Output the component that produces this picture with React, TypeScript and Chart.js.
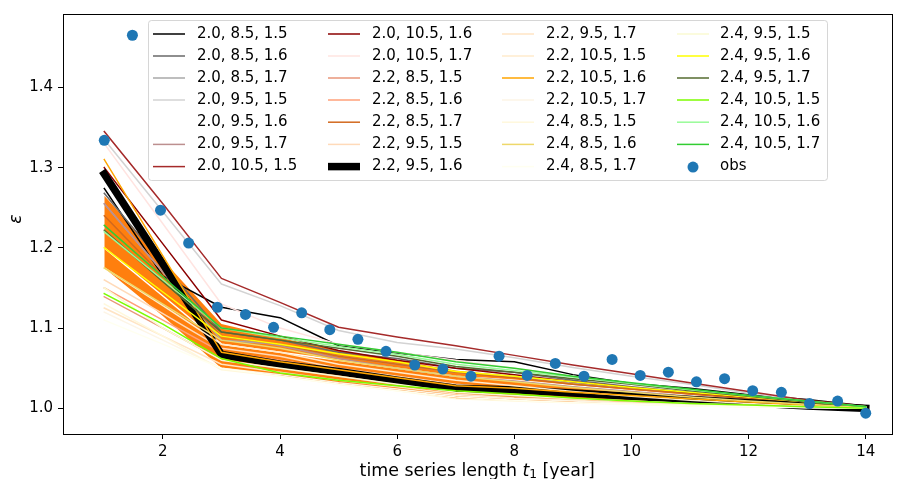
import React, { useEffect, useRef } from "react";
import { Chart, registerables } from "chart.js";

Chart.register(...registerables);

const T = [1, 2, 3, 4, 5, 6, 7, 8, 9, 10, 11, 12, 13, 14];
const X_TICKS = [2, 4, 6, 8, 10, 12, 14];
const Y_TICKS = [1.0, 1.1, 1.2, 1.3, 1.4];

const LABELS = [
  "2.0, 8.5, 1.5", "2.0, 8.5, 1.6", "2.0, 8.5, 1.7", "2.0, 9.5, 1.5", "2.0, 9.5, 1.6", "2.0, 9.5, 1.7",
  "2.0, 10.5, 1.5", "2.0, 10.5, 1.6", "2.0, 10.5, 1.7", "2.2, 8.5, 1.5", "2.2, 8.5, 1.6", "2.2, 8.5, 1.7",
  "2.2, 9.5, 1.5", "2.2, 9.5, 1.6", "2.2, 9.5, 1.7", "2.2, 10.5, 1.5", "2.2, 10.5, 1.6", "2.2, 10.5, 1.7",
  "2.4, 8.5, 1.5", "2.4, 8.5, 1.6", "2.4, 8.5, 1.7", "2.4, 9.5, 1.5", "2.4, 9.5, 1.6", "2.4, 9.5, 1.7",
  "2.4, 10.5, 1.5", "2.4, 10.5, 1.6", "2.4, 10.5, 1.7",
];

const COLORS = [
  "#000000", "#696969", "#a9a9a9", "#d3d3d3", "#ffffff", "#bc8f8f",
  "#a52a2a", "#8b0000", "#ffe4e1", "#e9967a", "#ffa07a", "#d2691e",
  "#ffdab9", "#000000", "#ffe4c4", "#ffebcd", "#ffa500", "#fdf5e6",
  "#fff8dc", "#eed86a", "#fffff0", "#fafad2", "#ffff00", "#556b2f",
  "#7cfc00", "#98fb98", "#32cd32",
];

const WIDTHS = [
  1.5, 1.5, 1.5, 1.5, 1.5, 1.5, 1.5, 1.5, 1.5, 1.5, 1.5, 1.5, 1.5, 7.5, 1.5, 1.5, 1.5, 1.5,
  1.5, 1.5, 1.5, 1.5, 1.5, 1.5, 1.5, 1.5, 1.5,
];

const VALUES: number[][] = [
  [1.274, 1.165, 1.126, 1.113, 1.078, 1.069, 1.061, 1.058, 1.042, 1.031, 1.025, 1.017, 1.011, 1.003],
  [1.268, 1.18, 1.095, 1.085, 1.07, 1.062, 1.05, 1.045, 1.035, 1.027, 1.02, 1.014, 1.008, 1.002],
  [1.255, 1.17, 1.085, 1.08, 1.065, 1.055, 1.045, 1.04, 1.032, 1.025, 1.019, 1.013, 1.008, 1.002],
  [1.335, 1.245, 1.155, 1.128, 1.097, 1.082, 1.074, 1.063, 1.051, 1.04, 1.03, 1.019, 1.009, 1.002],
  [1.2, 1.14, 1.08, 1.07, 1.06, 1.05, 1.04, 1.035, 1.028, 1.022, 1.016, 1.011, 1.006, 1.001],
  [1.255, 1.17, 1.09, 1.078, 1.062, 1.05, 1.04, 1.034, 1.027, 1.021, 1.015, 1.01, 1.005, 1.001],
  [1.345, 1.255, 1.162, 1.132, 1.101, 1.089, 1.078, 1.066, 1.054, 1.043, 1.032, 1.021, 1.01, 1.003],
  [1.3, 1.205, 1.11, 1.09, 1.072, 1.06, 1.05, 1.042, 1.033, 1.026, 1.019, 1.013, 1.007, 1.002],
  [1.33, 1.23, 1.13, 1.1, 1.08, 1.07, 1.06, 1.05, 1.04, 1.03, 1.022, 1.014, 1.008, 1.002],
  [1.139, 1.1, 1.06, 1.05, 1.04, 1.03, 1.02, 1.015, 1.012, 1.009, 1.006, 1.004, 1.002, 1.0],
  [1.15, 1.11, 1.07, 1.06, 1.048, 1.038, 1.028, 1.022, 1.017, 1.012, 1.008, 1.005, 1.003, 1.0],
  [1.24, 1.165, 1.09, 1.08, 1.065, 1.055, 1.045, 1.038, 1.03, 1.024, 1.018, 1.012, 1.007, 1.002],
  [1.16, 1.118, 1.075, 1.065, 1.05, 1.04, 1.03, 1.024, 1.018, 1.013, 1.009, 1.006, 1.003, 1.0],
  [1.292, 1.18, 1.067, 1.055, 1.046, 1.035, 1.025, 1.023, 1.019, 1.015, 1.011, 1.007, 1.003, 1.0],
  [1.125, 1.09, 1.055, 1.045, 1.035, 1.027, 1.018, 1.013, 1.01, 1.007, 1.005, 1.003, 1.001, 1.0],
  [1.175, 1.128, 1.08, 1.07, 1.055, 1.045, 1.035, 1.028, 1.021, 1.015, 1.01, 1.006, 1.003, 1.0],
  [1.31, 1.19, 1.07, 1.058, 1.048, 1.038, 1.028, 1.025, 1.02, 1.016, 1.012, 1.008, 1.004, 1.001],
  [1.12, 1.085, 1.05, 1.042, 1.032, 1.024, 1.016, 1.012, 1.009, 1.006, 1.004, 1.002, 1.001, 1.0],
  [1.13, 1.09, 1.048, 1.04, 1.03, 1.022, 1.012, 1.009, 1.007, 1.005, 1.003, 1.002, 1.001, 1.0],
  [1.175, 1.13, 1.085, 1.075, 1.06, 1.05, 1.04, 1.033, 1.026, 1.02, 1.014, 1.009, 1.005, 1.001],
  [1.11, 1.08, 1.05, 1.04, 1.03, 1.022, 1.014, 1.01, 1.007, 1.005, 1.003, 1.002, 1.001, 1.0],
  [1.15, 1.1, 1.06, 1.05, 1.04, 1.03, 1.02, 1.016, 1.012, 1.009, 1.006, 1.004, 1.002, 1.0],
  [1.2, 1.145, 1.09, 1.08, 1.068, 1.058, 1.046, 1.04, 1.033, 1.026, 1.02, 1.014, 1.008, 1.002],
  [1.222, 1.158, 1.095, 1.085, 1.075, 1.065, 1.052, 1.045, 1.037, 1.03, 1.022, 1.015, 1.008, 1.002],
  [1.143, 1.105, 1.062, 1.044, 1.035, 1.028, 1.022, 1.018, 1.013, 1.009, 1.006, 1.004, 1.002, 1.0],
  [1.22, 1.16, 1.1, 1.088, 1.077, 1.067, 1.055, 1.047, 1.039, 1.031, 1.023, 1.016, 1.009, 1.002],
  [1.228, 1.164, 1.1, 1.09, 1.08, 1.07, 1.058, 1.05, 1.04, 1.032, 1.024, 1.016, 1.009, 1.002],
];

const BAND_LOW = [1.175, 1.115, 1.05, 1.04, 1.03, 1.022, 1.012, 1.009, 1.007, 1.005, 1.004, 1.002, 1.001, 1.0];
const BAND_HIGH = [1.265, 1.185, 1.105, 1.088, 1.072, 1.06, 1.047, 1.04, 1.033, 1.027, 1.02, 1.014, 1.008, 1.004];

const OBS_T = [
  1.0, 1.48, 1.96, 2.44, 2.93, 3.41, 3.89, 4.37, 4.85, 5.33, 5.81, 6.3, 6.78, 7.26,
  7.74, 8.22, 8.7, 9.19, 9.67, 10.15, 10.63, 11.11, 11.59, 12.07, 12.56, 13.04, 13.52, 14.0,
];
const OBS_V = [
  1.334, 1.465, 1.247, 1.206, 1.126, 1.117, 1.101, 1.119, 1.098, 1.086, 1.071, 1.054, 1.049, 1.04,
  1.065, 1.041, 1.056, 1.04, 1.061, 1.041, 1.045, 1.033, 1.037, 1.022, 1.02, 1.006, 1.009, 0.994,
];

const FONT = "DejaVu Sans";
const FS = 15;
const LFS = 17.4;

const framePlugin = {
  id: "frame",
  afterDraw(chart: any) {
    const { ctx, chartArea: a } = chart;
    ctx.save();
    ctx.strokeStyle = "#000";
    ctx.lineWidth = 1;
    ctx.strokeRect(Math.round(a.left) + 0.5, Math.round(a.top) + 0.5, Math.round(a.right - a.left), Math.round(a.bottom - a.top));
    ctx.fillStyle = "#000";
    ctx.textBaseline = "middle";
    const cx = (a.left + a.right) / 2;
    const part1 = "time series length ";
    const part2 = "t";
    const part3 = "1";
    const part4 = " [year]";
    ctx.font = `${LFS}px "${FONT}"`;
    const w1 = ctx.measureText(part1).width;
    const w4 = ctx.measureText(part4).width;
    ctx.font = `italic ${LFS}px "${FONT}"`;
    const w2 = ctx.measureText(part2).width;
    ctx.font = `${LFS * 0.7}px "${FONT}"`;
    const w3 = ctx.measureText(part3).width;
    let x = cx - (w1 + w2 + w3 + w4) / 2;
    const y = 471;
    ctx.textAlign = "left";
    ctx.font = `${LFS}px "${FONT}"`;
    ctx.fillText(part1, x, y);
    x += w1;
    ctx.font = `italic ${LFS}px "${FONT}"`;
    ctx.fillText(part2, x, y);
    x += w2;
    ctx.font = `${LFS * 0.7}px "${FONT}"`;
    ctx.fillText(part3, x, y + 3.5);
    x += w3;
    ctx.font = `${LFS}px "${FONT}"`;
    ctx.fillText(part4, x, y);
    ctx.save();
    ctx.translate(16, 219);
    ctx.rotate(-Math.PI / 2);
    ctx.textAlign = "center";
    ctx.font = `italic ${LFS}px "${FONT}"`;
    ctx.fillText("ε", 0, 0);
    ctx.restore();
    ctx.restore();
  },
};

const legendPlugin = {
  id: "customLegend",
  afterDraw(chart: any) {
    const { ctx } = chart;
    const left = 148.5, top = 20.5, right = 827.5, bottom = 180.5, r = 3;
    ctx.save();
    ctx.beginPath();
    ctx.moveTo(left + r, top);
    ctx.lineTo(right - r, top);
    ctx.quadraticCurveTo(right, top, right, top + r);
    ctx.lineTo(right, bottom - r);
    ctx.quadraticCurveTo(right, bottom, right - r, bottom);
    ctx.lineTo(left + r, bottom);
    ctx.quadraticCurveTo(left, bottom, left, bottom - r);
    ctx.lineTo(left, top + r);
    ctx.quadraticCurveTo(left, top, left + r, top);
    ctx.closePath();
    ctx.fillStyle = "rgba(255,255,255,0.8)";
    ctx.fill();
    ctx.strokeStyle = "rgba(204,204,204,0.8)";
    ctx.lineWidth = 1;
    ctx.stroke();

    const colLine = [153, 328, 502, 677];
    const colText = [197, 372, 546, 720];
    const rowY = [34, 56, 78, 100, 122.2, 144.4, 166.6];
    const entries: any[] = LABELS.map((l, i) => ({ label: l, color: COLORS[i], width: WIDTHS[i], type: "line" }));
    entries.push({ label: "obs", color: "#1f77b4", type: "dot" });
    ctx.font = `${FS}px "${FONT}"`;
    ctx.textBaseline = "middle";
    ctx.textAlign = "left";
    entries.forEach((e, i) => {
      const c = Math.floor(i / 7);
      const rI = i % 7;
      const y = rowY[rI];
      if (e.type === "line") {
        ctx.strokeStyle = e.color;
        ctx.lineWidth = e.width;
        ctx.lineCap = "butt";
        ctx.beginPath();
        ctx.moveTo(colLine[c], y);
        ctx.lineTo(colLine[c] + 32, y);
        ctx.stroke();
      } else {
        ctx.fillStyle = e.color;
        ctx.beginPath();
        ctx.arc(colLine[c] + 16, y + 0.5, 5.5, 0, Math.PI * 2);
        ctx.fill();
      }
      ctx.fillStyle = "#000";
      ctx.fillText(e.label, colText[c], y);
    });
    ctx.restore();
  },
};

export default function App() {
  const ref = useRef<HTMLCanvasElement | null>(null);
  useEffect(() => {
    if (!ref.current) return;
    const N = LABELS.length;
    const datasets: any[] = [];
    datasets.push({
      label: "band_low",
      data: T.map((t, i) => ({ x: t, y: BAND_LOW[i] })),
      borderWidth: 0,
      pointRadius: 0,
      fill: false,
      order: 1000,
    });
    datasets.push({
      label: "band_high",
      data: T.map((t, i) => ({ x: t, y: BAND_HIGH[i] })),
      borderWidth: 0,
      borderColor: "rgba(0,0,0,0)",
      pointRadius: 0,
      fill: "-1",
      backgroundColor: "#ff7f0e",
      order: 999,
    });
    LABELS.forEach((l, i) => {
      datasets.push({
        label: l,
        data: T.map((t, j) => ({ x: t, y: VALUES[i][j] })),
        borderColor: COLORS[i],
        borderWidth: WIDTHS[i],
        pointRadius: 0,
        fill: false,
        borderJoinStyle: "round",
        borderCapStyle: "square",
        order: N + 10 - i,
      });
    });
    datasets.push({
      label: "obs",
      data: OBS_T.map((t, i) => ({ x: t, y: OBS_V[i] })),
      showLine: false,
      pointRadius: 5.5,
      pointBackgroundColor: "#1f77b4",
      pointBorderWidth: 0,
      backgroundColor: "#1f77b4",
      order: 0,
    });

    const chart = new Chart(ref.current, {
      type: "line",
      data: { datasets },
      plugins: [framePlugin, legendPlugin],
      options: {
        responsive: false,
        animation: false,
        devicePixelRatio: 1,
        layout: { padding: { top: 13, right: 1, left: 0, bottom: 0 } },
        plugins: { legend: { display: false }, tooltip: { enabled: false } },
        scales: {
          x: {
            type: "linear",
            min: 0.295,
            max: 14.44,
            afterBuildTicks: (s: any) => { s.ticks = X_TICKS.map((v) => ({ value: v })); },
            afterFit: (s: any) => { s.height = 45; },
            grid: { drawOnChartArea: false, drawTicks: true, tickLength: 5, color: "#000", lineWidth: 1 },
            border: { display: true, color: "#000", width: 1 },
            ticks: {
              color: "#000",
              padding: 4,
              maxRotation: 0,
              font: { family: FONT, size: FS },
              callback: (v: any) => String(v),
            },
          },
          y: {
            type: "linear",
            min: 0.968,
            max: 1.4915,
            afterBuildTicks: (s: any) => { s.ticks = Y_TICKS.map((v) => ({ value: v })); },
            afterFit: (s: any) => { s.width = 63; },
            grid: { drawOnChartArea: false, drawTicks: true, tickLength: 5, color: "#000", lineWidth: 1 },
            border: { display: true, color: "#000", width: 1 },
            ticks: {
              color: "#000",
              padding: 5,
              font: { family: FONT, size: FS },
              callback: (v: any) => Number(v).toFixed(1),
            },
          },
        },
      } as any,
    });
    return () => chart.destroy();
  }, []);
  return (
    <div style={{ position: "fixed", left: 0, top: 0, width: 897, height: 479, overflow: "hidden", background: "#fff" }}>
      <canvas ref={ref} width={897} height={479} style={{ width: 897, height: 479, display: "block" }} />
    </div>
  );
}
